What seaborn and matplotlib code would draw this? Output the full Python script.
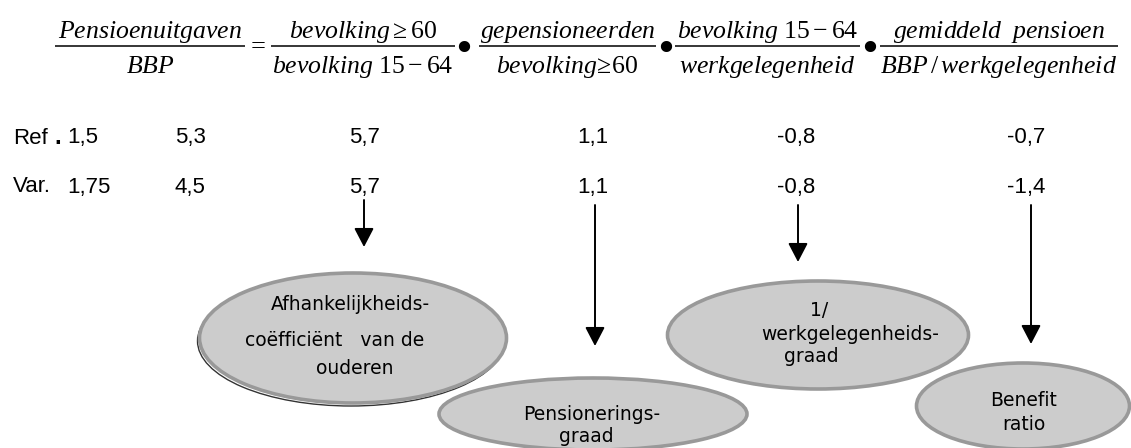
import matplotlib
matplotlib.use('Agg')
import matplotlib.pyplot as plt
import seaborn as sns
from matplotlib.patches import Ellipse

# Values per factor of the decomposition
row_labels = ['Ref', 'Var.']
ref_values = [1.5, 5.3, 5.7, 1.1, -0.8, -0.7]
var_values = [1.75, 4.5, 5.7, 1.1, -0.8, -1.4]

# Formula: numerator / denominator of each factor (mathtext)
numerators = ['$Pensioenuitgaven$', r'$bevolking \geq 60$', '$gepensioneerden$',
              r'$bevolking\ 15-64$', r'$gemiddeld\ \ pensioen$']
denominators = ['$BBP$', r'$bevolking\ 15-64$', r'$bevolking\!\geq\!60$',
                '$werkgelegenheid$', r'$BBP\,/\,werkgelegenheid$']
operators = ['=', '•', '•', '•']

# Ellipse labels (one entry per line)
bubble_labels = [
    ['Afhankelijkheids-', 'coëfficiënt   van de', 'ouderen'],
    ['1/', 'werkgelegenheids-', 'graad'],
    ['Pensionerings-', 'graad'],
    ['Benefit', 'ratio'],
]

# layout (pixels)
frac_lines = [(55, 245), (271, 455), (479, 656), (675, 860), (880, 1118)]
op_x = [258, 464, 666, 870]
col_x = [67, 190, 364, 593, 796, 1026]
row_y = [138, 187]
arrows = [(364, 200, 247), (595, 205, 346), (798, 205, 262), (1031, 205, 344)]
bubbles = [((353, 338), 307, 130), ((818, 335), 301, 108),
           ((593, 414), 308, 72), ((1023, 406), 213, 86)]
bubble_text_pos = [
    [(350, 304), (335, 341), (355, 369)],
    [(819, 310), (850, 335), (811, 356)],
    [(592, 415), (586, 436)],
    [(1024, 401), (1024, 425)],
]

sns.set_theme(style='white')
plt.rcParams['mathtext.fontset'] = 'custom'
plt.rcParams['mathtext.it'] = 'Liberation Serif:italic'
plt.rcParams['mathtext.rm'] = 'Liberation Serif'
plt.rcParams['mathtext.bf'] = 'Liberation Serif:bold'
plt.rcParams['font.family'] = ['DejaVu Sans']
plt.rcParams['text.color'] = 'black'

fig = plt.figure(figsize=(11.31, 4.48), dpi=100)
ax = fig.add_axes([0, 0, 1, 1])
ax.set_xlim(0, 1131)
ax.set_ylim(448, 0)
ax.axis('off')

# formula
for (x0, x1), num, den in zip(frac_lines, numerators, denominators):
    xc = (x0 + x1) / 2
    ax.plot([x0, x1], [46, 46], color='black', lw=1.1, solid_capstyle='butt')
    ax.text(xc, 38, num, fontsize=18.5, ha='center', va='baseline')
    ax.text(xc, 73, den, fontsize=18.5, ha='center', va='baseline')
for x, op in zip(op_x, operators):
    if op == '=':
        ax.text(x, 53, op, fontsize=19, family='Liberation Serif', ha='center', va='baseline')
    else:
        ax.text(x, 61, op, fontsize=28, family='DejaVu Sans', ha='center', va='baseline')

# rows of values
for y, label, vals in zip(row_y, row_labels, [ref_values, var_values]):
    ax.text(13, y, label, fontsize=16, family='Liberation Sans', ha='left', va='center')
    if label == 'Ref':
        ax.text(54, y, '.', fontsize=17, family='Liberation Sans', fontweight='bold',
                ha='left', va='center')
    for i, (x, v) in enumerate(zip(col_x, vals)):
        s = f'{v:g}'.replace('.', ',')
        ax.text(x, y, s, fontsize=16, family='Liberation Sans',
                ha='left' if i == 0 else 'center', va='center')

# arrows
for x, y0, y1 in arrows:
    ax.annotate('', xy=(x, y1), xytext=(x, y0),
                arrowprops=dict(arrowstyle='-|>,head_length=1.15,head_width=0.6',
                                color='black', lw=1.4, shrinkA=0, shrinkB=0,
                                mutation_scale=10))

# bubbles
for i, ((c, w, h), lines, pos) in enumerate(zip(bubbles, bubble_labels, bubble_text_pos)):
    if i == 0:
        ax.add_patch(Ellipse((c[0] - 2, c[1] + 3), w, h, facecolor='none',
                             edgecolor='#333333', lw=1.0, zorder=2))
    ax.add_patch(Ellipse(c, w, h, facecolor='#cccccc', edgecolor='#999999',
                         lw=2.6, zorder=3))
    for txt, (tx, ty) in zip(lines, pos):
        ax.text(tx, ty, txt, fontsize=13.5, ha='center', va='center',
                color='black', zorder=4)

fig.savefig('out.png', dpi=100)
